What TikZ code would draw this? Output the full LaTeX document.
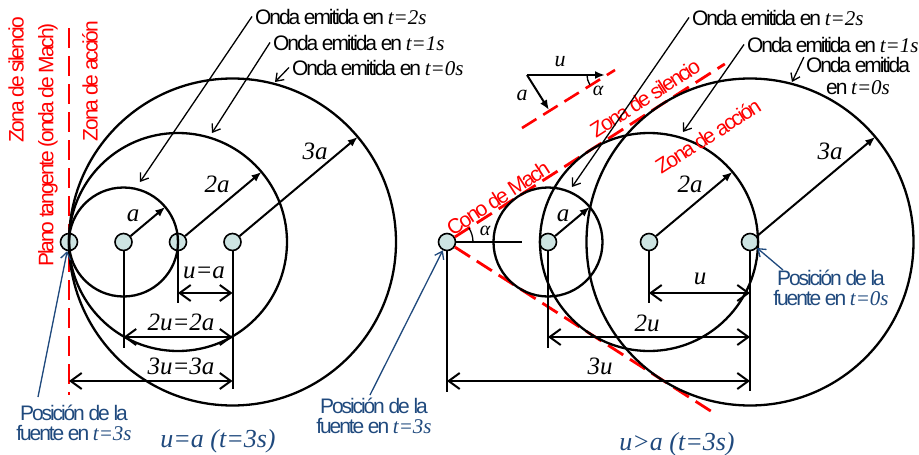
\documentclass[tikz,border=0pt]{standalone}
\usepackage{fontspec}
\setmainfont{Liberation Sans}[LetterSpace=-10]
\newfontfamily\tnr{Liberation Serif}
\usepackage{tikz}
\usetikzlibrary{positioning}
\usetikzlibrary{calc}
\usetikzlibrary{arrows.meta}

\definecolor{srcfill}{RGB}{205,228,226}
\definecolor{lblue}{RGB}{31,73,125}

\newcommand{\ti}[1]{{\tnr\itshape #1}}

\tikzset{
    src/.style={circle, draw, line width=1.6pt, fill=srcfill, minimum size=17pt, inner sep=0pt},
    wave/.style={line width=2.3pt},
    rad/.style={line width=2pt, -{Latex[length=10pt,width=8pt]}},
    dim/.style={line width=2pt, {Straight Barb[length=11pt,width=16pt]}-{Straight Barb[length=11pt,width=16pt]}},
    ext/.style={line width=2pt},
    ptr/.style={line width=1.3pt, -{Straight Barb[length=7pt,width=10pt]}},
    bptr/.style={ptr, draw=lblue},
    mach/.style={red, line width=2.8pt, dash pattern=on 18pt off 8pt},
    redlbl/.style={red, font=\fontsize{21}{24}\selectfont, inner sep=0pt},
    lbl/.style={font=\fontsize{21}{22}\selectfont, inner sep=0pt},
    mlbl/.style={font=\fontsize{25}{26}\selectfont\tnr\itshape, inner sep=0pt},
    blbl/.style={lblue, font=\fontsize{21}{20}\selectfont, align=center, inner sep=0pt},
}

\begin{document}
\begin{tikzpicture}[x=1pt, y=-1pt]
    \useasboundingbox (0,0) rectangle (919,455);

    % u = a
    \node[src] (l3) at (69,242) {};
    \node[src, on grid, right=54.5pt of l3] (l2) {};
    \node[src, on grid, right=54.5pt of l2] (l1) {};
    \node[src, on grid, right=54.5pt of l1] (l0) {};

    \coordinate (pt) at (69,28);
    \coordinate (pb) at (69,395);
    \draw[mach, dash pattern=on 20pt off 8pt] (pt) -- (pb);

    \draw[wave] (l2.center) circle[radius=54.5pt];
    \draw[wave] (l1.center) circle[radius=109pt];
    \draw[wave] (l0.center) circle[radius=163.5pt];

    \coordinate (la2) at ($(l2)+(40:54.5pt)$);
    \coordinate (la1) at ($(l1)+(40:109pt)$);
    \coordinate (la0) at ($(l0)+(40:163.5pt)$);
    \draw[rad] (l2) -- (la2);
    \draw[rad] (l1) -- (la1);
    \draw[rad] (l0) -- (la0);

    \draw[ext] (l2.south) -- ++(0pt,-97pt);
    \draw[ext] (l1.south) -- ++(0pt,-52pt);
    \draw[ext] (l0.south) -- ++(0pt,-138pt);

    \coordinate (y1) at (0,293);
    \coordinate (y2) at (0,337);
    \coordinate (y3) at (0,381);
    \draw[dim] (l1 |- y1) -- (l0 |- y1);
    \draw[dim] (l2 |- y2) -- (l0 |- y2);
    \draw[dim] (l3 |- y3) -- (l0 |- y3);

    \node[mlbl] at (204,273) {u=a};
    \node[mlbl] at (181,322) {2u=2a};
    \node[mlbl] at (181,366) {3u=3a};
    \node[mlbl] at (133,216) {a};
    \node[mlbl] at (217,184) {2a};
    \node[mlbl] at (315,151) {3a};

    \node[redlbl, rotate=90] at (16,80) {Zona de silencio};
    \node[redlbl, rotate=90] at (48,145) {Plano tangente (onda de Mach)};
    \node[redlbl, rotate=90] at (90,81) {Zona de acción};

    \node[lbl, anchor=base west] (ol2) at (255,24) {Onda emitida en \ti{t=2s}};
    \node[lbl, anchor=base west] (ol1) at (273,50) {Onda emitida en \ti{t=1s}};
    \node[lbl, anchor=base west] (ol0) at (292,75) {Onda emitida en \ti{t=0s}};
    \coordinate (cl2) at (140,182);
    \coordinate (cl1) at (212,133);
    \coordinate (cl0) at (275,82);
    \draw[ptr] ([xshift=-3pt]ol2.west) -- (cl2);
    \draw[ptr] ([xshift=-3pt]ol1.west) -- (cl1);
    \draw[ptr] ([xshift=-3pt]ol0.west) -- (cl0);

    \node[blbl] (pl3) at (74,423) {Posición de la\\fuente en \ti{t=3s}};
    \coordinate (bl3) at (38,397);
    \draw[bptr] (bl3) -- (l3);

    \node[lblue, font=\fontsize{26}{28}\selectfont\tnr\itshape, anchor=base] at (218,447) {u=a (t=3s)};

    % u > a
    \node[src] (r3) at (447,242) {};
    \node[src, on grid, right=101pt of r3] (r2) {};
    \node[src, on grid, right=101pt of r2] (r1) {};
    \node[src, on grid, right=101pt of r1] (r0) {};

    \pgfmathsetmacro{\mach}{asin(54.5/101)}
    \coordinate (m1) at ($(r3)+(\mach:330pt)$);
    \coordinate (m2) at ($(r3)+(-\mach:318pt)$);
    \draw[mach] (r3) -- (m1);
    \draw[mach] (r3) -- (m2);

    \draw[wave] (r2.center) circle[radius=54.5pt];
    \draw[wave] (r1.center) circle[radius=109pt];
    \draw[wave] (r0.center) circle[radius=163.5pt];

    \coordinate (ra2) at ($(r2)+(40:54.5pt)$);
    \coordinate (ra1) at ($(r1)+(40:109pt)$);
    \coordinate (ra0) at ($(r0)+(40:163.5pt)$);
    \draw[rad] (r2) -- (ra2);
    \draw[rad] (r1) -- (ra1);
    \draw[rad] (r0) -- (ra0);

    \coordinate (h) at (522,242);
    \draw[line width=1.5pt] (r3) -- (h);
    \draw[line width=1.3pt] (r3.center) ++(26pt,0pt) arc[start angle=0, end angle=\mach, radius=26pt];
    \node[mlbl, font=\fontsize{20}{22}\selectfont\tnr\itshape] at (485,231) {α};

    \draw[ext] (r3.south) -- ++(0pt,-141pt);
    \draw[ext] (r2.south) -- ++(0pt,-97pt);
    \draw[ext] (r1.south) -- ++(0pt,-52pt);
    \draw[ext] (r0.south) -- ++(0pt,-140pt);

    \draw[dim] (r1 |- y1) -- (r0 |- y1);
    \draw[dim] (r2 |- y2) -- (r0 |- y2);
    \draw[dim] (r3 |- y3) -- (r0 |- y3);

    \node[mlbl] at (700,279) {u};
    \node[mlbl] at (647,323) {2u};
    \node[mlbl] at (600,366) {3u};
    \node[mlbl] at (563,216) {a};
    \node[mlbl] at (690,184) {2a};
    \node[mlbl] at (830,151) {3a};

    \node[redlbl, rotate=\mach] at (498,198) {Cono de Mach};
    \node[redlbl, rotate=\mach] at (645,98) {Zona de silencio};
    \node[redlbl, rotate=\mach] at (708,136) {Zona de acción};

    % velocity triangle
    \coordinate (v0) at (527,75);
    \coordinate (vu) at (605,75);
    \coordinate (va) at (549,110);
    \coordinate (d1) at (522,128);
    \coordinate (d2) at (615,70);
    \draw[mach, line width=2.6pt, dash pattern=on 17pt off 8pt] (d1) -- (d2);
    \draw[rad] (v0) -- (vu);
    \draw[rad] (v0) -- (va);
    \draw[line width=1.3pt] (vu) ++(-18pt,0pt) arc[start angle=180, end angle=180+\mach, radius=18pt];
    \node[mlbl, font=\fontsize{22}{24}\selectfont\tnr\itshape] at (560,62) {u};
    \node[mlbl, font=\fontsize{22}{24}\selectfont\tnr\itshape] at (522,95) {a};
    \node[mlbl, font=\fontsize{20}{22}\selectfont\tnr\itshape] at (598,91) {α};

    \node[lbl, anchor=base west] (or2) at (692,25) {Onda emitida en \ti{t=2s}};
    \node[lbl, anchor=base west] (or1) at (747,52) {Onda emitida en \ti{t=1s}};
    \node[lbl, align=center] (or0) at (858,76) {Onda emitida\\en \ti{t=0s}};
    \coordinate (cr2) at (572,187);
    \coordinate (cr1) at (683,132);
    \coordinate (cr0) at (792,82);
    \draw[ptr] ([xshift=-3pt]or2.west) -- (cr2);
    \draw[ptr] ([xshift=-3pt]or1.west) -- (cr1);
    \draw[ptr] ([xshift=-2pt]or0.north west) -- (cr0);

    \node[blbl] (pr3) at (374,416) {Posición de la\\fuente en \ti{t=3s}};
    \coordinate (br3) at (370,395);
    \draw[bptr] (br3) -- (r3);

    \node[blbl] (pr0) at (831,288) {Posición de la\\fuente en \ti{t=0s}};
    \coordinate (br0) at (783,270);
    \draw[bptr] (br0) -- (r0);

    \node[lblue, font=\fontsize{26}{28}\selectfont\tnr\itshape, anchor=base] at (677,450) {u>a (t=3s)};

\end{tikzpicture}
\end{document}
